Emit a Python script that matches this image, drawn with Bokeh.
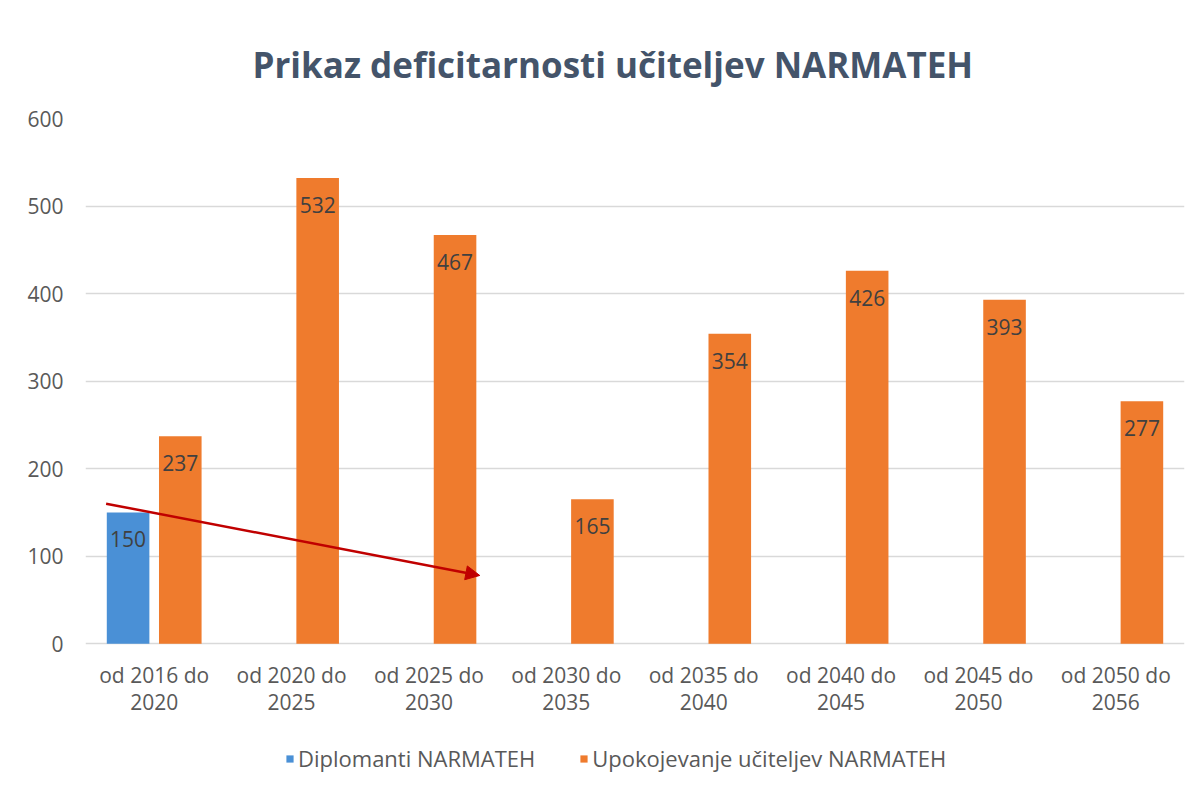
from bokeh.plotting import figure
from bokeh.layouts import column
from bokeh.models import (FactorRange, Range1d, ColumnDataSource, Legend, LegendItem,
                          Arrow, NormalHead, LabelSet, FixedTicker)
from bokeh.transform import dodge
from bokeh.embed import file_html
from bokeh.resources import INLINE
from bokeh.core.properties import value

# ---- data ----
label_line1 = ["od 2016 do", "od 2020 do", "od 2025 do", "od 2030 do",
               "od 2035 do", "od 2040 do", "od 2045 do", "od 2050 do"]
label_line2 = ["2020", "2025", "2030", "2035", "2040", "2045", "2050", "2056"]
diplomanti = [150, 0, 0, 0, 0, 0, 0, 0]
upokojevanje = [237, 532, 467, 165, 354, 426, 393, 277]
series_names = ["Diplomanti NARMATEH", "Upokojevanje učiteljev NARMATEH"]
y_ticks = [0, 100, 200, 300, 400, 500, 600]
title_text = "Prikaz deficitarnosti učiteljev NARMATEH"
# arrow annotation (category-synthetic x, value y)
arrow_start = (0.15, 160)
arrow_end = (2.87, 78)

FONT = "Open Sans"
GREY = "#595959"
BLUE = "#4A90D6"
ORANGE = "#EF7B2D"
W = 1192
LEFT = 85

# two-line category labels: group = second line, sub-factor = first line
factors = [(b, a) for a, b in zip(label_line1, label_line2)]

p = figure(width=W, height=735,
           x_range=FactorRange(*factors, group_padding=0, factor_padding=0),
           y_range=Range1d(-10, 600),
           output_backend="svg", toolbar_location=None,
           min_border_left=LEFT, min_border_right=8, min_border_top=118, min_border_bottom=83)

p.title.text = title_text
p.title.align = "left"
p.title.offset = 167
p.title.text_font = FONT
p.title.text_font_size = "35px"
p.title.text_font_style = "bold"
p.title.text_color = "#44546A"
p.title.standoff = 62

d_cats = [c for c, v in zip(factors, diplomanti) if v > 0]
d_vals = [v for v in diplomanti if v > 0]
src_d = ColumnDataSource(dict(cat=d_cats, top=d_vals, lab=[str(v) for v in d_vals]))
src_u = ColumnDataSource(dict(cat=factors, top=upokojevanje, lab=[str(v) for v in upokojevanje]))

bw = 0.31
off = 0.19
p.vbar(x=dodge("cat", -off, range=p.x_range), top="top", bottom=0, width=bw, source=src_d,
       fill_color=BLUE, line_color=None)
p.vbar(x=dodge("cat", off, range=p.x_range), top="top", bottom=0, width=bw, source=src_u,
       fill_color=ORANGE, line_color=None)

for src, o in ((src_d, -off), (src_u, off)):
    p.add_layout(LabelSet(x=dodge("cat", o, range=p.x_range), y="top", text="lab", source=src,
                          y_offset=-27, text_align="center", text_baseline="middle",
                          text_font=value(FONT), text_font_size="21px", text_color="#404040"))

p.add_layout(Arrow(end=NormalHead(size=14, fill_color="#C00000", line_color="#C00000"),
                   x_start=arrow_start[0], y_start=arrow_start[1],
                   x_end=arrow_end[0], y_end=arrow_end[1],
                   line_color="#C00000", line_width=2.5))

p.yaxis.ticker = FixedTicker(ticks=y_ticks)
p.yaxis.axis_line_color = None
p.yaxis.major_tick_line_color = None
p.yaxis.minor_tick_line_color = None
p.yaxis.major_label_text_font = FONT
p.yaxis.major_label_text_font_size = "21px"
p.yaxis.major_label_text_color = GREY
p.yaxis.major_label_standoff = 16

xa = p.xaxis[0]
xa.axis_line_color = None
xa.major_tick_line_color = None
xa.minor_tick_line_color = None
xa.separator_line_color = None
xa.major_label_text_font = FONT
xa.major_label_text_font_size = "21px"
xa.major_label_text_color = GREY
xa.major_label_standoff = 2
xa.group_text_font = FONT
xa.group_text_font_size = "21px"
xa.group_text_font_style = "normal"
xa.group_text_color = GREY
xa.group_label_orientation = "horizontal"

p.xgrid.grid_line_color = None
p.ygrid.grid_line_color = "#D9D9D9"
p.ygrid.grid_line_width = 1.5
p.outline_line_color = None

# legend strip below the chart (hidden renderers of the same data give the swatches)
pl = figure(width=W, height=46, x_range=p.x_range, y_range=Range1d(0, 1),
            output_backend="svg", toolbar_location=None,
            x_axis_location=None, y_axis_location=None, min_border=0)
pl.xgrid.grid_line_color = None
pl.ygrid.grid_line_color = None
pl.outline_line_color = None
lg_d = pl.vbar(x=dodge("cat", -off, range=p.x_range), top="top", width=bw, source=src_d,
               fill_color=BLUE, line_color=None, visible=False)
lg_u = pl.vbar(x=dodge("cat", off, range=p.x_range), top="top", width=bw, source=src_u,
               fill_color=ORANGE, line_color=None, visible=False)
legend = Legend(items=[LegendItem(label=series_names[0], renderers=[lg_d]),
                       LegendItem(label=series_names[1], renderers=[lg_u])],
                orientation="horizontal", location=(285 - LEFT, 8),
                label_text_font=FONT, label_text_font_size="22px", label_text_color=GREY,
                glyph_width=9, glyph_height=9, spacing=44, label_standoff=4,
                border_line_color=None, background_fill_alpha=0, margin=0, padding=0,
                inactive_fill_alpha=0, click_policy="none")
pl.add_layout(legend)

layout = column(p, pl, spacing=0)
open("out.html", "w").write(file_html(layout, INLINE))
